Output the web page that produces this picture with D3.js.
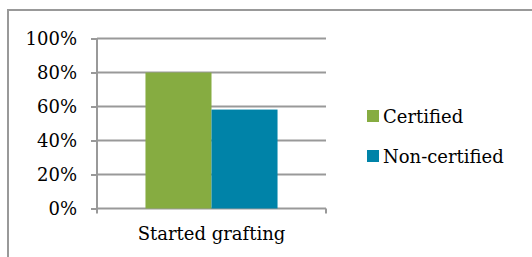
<!DOCTYPE html>
<html><head><meta charset="utf-8">
<script src="https://cdn.jsdelivr.net/npm/d3@7"></script>
<style>body{margin:0;background:#fff}svg{display:block}</style>
</head><body>
<svg id="c" width="532" height="257"></svg>
<script>
const categories = ["Started grafting"];
const seriesNames = ["Certified", "Non-certified"];
const certified = [0.80];
const nonCertified = [0.582];
const yTicks = [0, 0.2, 0.4, 0.6, 0.8, 1.0];
const colors = ["#86AC41", "#0083A8"];

const svg = d3.select("#c");
const font = "DejaVu Serif, Georgia, serif";
const gray = "#999";

// outer frame
svg.append("path").attr("d", "M8,257V10H532").attr("fill","none").attr("stroke",gray).attr("stroke-width",2);

const x0 = d3.scaleBand().domain(categories).range([97, 326]).paddingInner(0).paddingOuter(0.367);
const x1 = d3.scaleBand().domain(seriesNames).range([0, x0.bandwidth()]);
const y = d3.scaleLinear().domain([0, 1]).range([208.5, 38.5]);

// gridlines
svg.append("g").selectAll("line").data(yTicks).join("line")
  .attr("x1", 97).attr("x2", 326).attr("y1", d=>y(d)).attr("y2", d=>y(d))
  .attr("stroke", gray).attr("stroke-width", 2);

// bars
const data = categories.map((c,i)=>({c, vals:[certified[i], nonCertified[i]]}));
const g = svg.append("g").selectAll("g").data(data).join("g")
  .attr("transform", d=>`translate(${x0(d.c)},0)`);
g.selectAll("rect").data(d=>d.vals.map((v,j)=>({v, s:seriesNames[j], j})))
  .join("rect")
  .attr("x", d=>x1(d.s)).attr("width", x1.bandwidth())
  .attr("y", d=>y(d.v)).attr("height", d=>y(0)-y(d.v))
  .attr("fill", d=>colors[d.j]);

// y axis
const yAxis = d3.axisLeft(y).tickValues(yTicks).tickFormat(d3.format(".0%")).tickSize(6).tickPadding(14);
const ya = svg.append("g").attr("transform","translate(97,0)").call(yAxis);
ya.select(".domain").attr("d", `M0,${y(1)}V${y(0)+5}`).attr("stroke",gray).attr("stroke-width",2);
ya.selectAll(".tick line").attr("stroke",gray).attr("stroke-width",2);
ya.selectAll(".tick text").attr("font-family",font).attr("font-size",18).attr("fill","#000");

// x axis
svg.append("line").attr("x1",326).attr("x2",326).attr("y1",y(0)).attr("y2",y(0)+5).attr("stroke",gray).attr("stroke-width",2);
svg.append("g").selectAll("text").data(categories).join("text")
  .attr("x", d=>x0(d)+x0.bandwidth()/2).attr("y", 240)
  .attr("text-anchor","middle").attr("font-family",font).attr("font-size",18).attr("fill","#000")
  .text(d=>d);

// legend
const lg = svg.append("g").selectAll("g").data(seriesNames).join("g")
  .attr("transform",(d,i)=>`translate(367,${110+i*40})`);
lg.append("rect").attr("width",12).attr("height",12).attr("fill",(d,i)=>colors[i]);
lg.append("text").attr("x",16).attr("y",13).attr("font-family",font).attr("font-size",18).attr("fill","#000").text(d=>d);
</script>
</body></html>
